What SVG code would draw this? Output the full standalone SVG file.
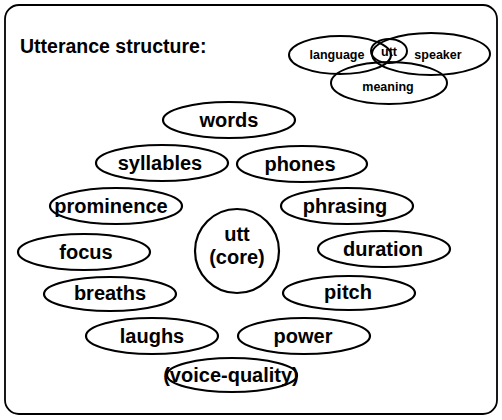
<svg xmlns="http://www.w3.org/2000/svg" width="502" height="420" viewBox="0 0 502 420">
  <style>
    .frame { fill: none; stroke: #000; stroke-width: 1.8; }
    .node ellipse, .node circle { fill: none; stroke: #000; stroke-width: 2.2; }
    .venn ellipse { fill: none; stroke: #000; stroke-width: 2; }
    text { font-family: "Liberation Sans", Arial, sans-serif; font-weight: bold; fill: #000; text-anchor: middle; }
    .label { font-size: 20px; }
    .small { font-size: 12.5px; }
    .title { font-size: 19.5px; text-anchor: start; }
  </style>
  <rect class="frame" x="5" y="5" width="492" height="409" rx="14" ry="14"/>
  <text class="title" x="20" y="53">Utterance structure:</text>

  <!-- context Venn diagram -->
  <g id="venn" class="venn">
    <ellipse cx="340" cy="55" rx="51" ry="19"/>
    <ellipse cx="431" cy="54" rx="59" ry="21"/>
    <ellipse cx="389" cy="83" rx="58" ry="21"/>
    <ellipse cx="389" cy="51" rx="18" ry="12"/>
    <text class="small" x="337" y="59">language</text>
    <text class="small" x="389" y="56">utt</text>
    <text class="small" x="438" y="59">speaker</text>
    <text class="small" x="388" y="91">meaning</text>
  </g>

  <g id="connectors"></g>

  <g id="words" class="node"><ellipse cx="229" cy="120" rx="66" ry="18"/><text class="label" x="229" y="127">words</text></g>
  <g id="syllables" class="node"><ellipse cx="162" cy="163" rx="66" ry="18"/><text class="label" x="160" y="170">syllables</text></g>
  <g id="phones" class="node"><ellipse cx="302" cy="164" rx="65" ry="18"/><text class="label" x="300" y="171">phones</text></g>
  <g id="prominence" class="node"><ellipse cx="116" cy="206" rx="66" ry="18"/><text class="label" x="111" y="213">prominence</text></g>
  <g id="phrasing" class="node"><ellipse cx="347" cy="206" rx="66" ry="18"/><text class="label" x="345" y="213">phrasing</text></g>
  <g id="focus" class="node"><ellipse cx="84" cy="252" rx="66" ry="18"/><text class="label" x="86" y="259">focus</text></g>
  <g id="duration" class="node"><ellipse cx="384" cy="249" rx="66" ry="18"/><text class="label" x="383" y="256">duration</text></g>
  <g id="utt-core" class="node"><circle cx="237" cy="251" r="42"/><text class="label" x="237" y="241">utt</text><text class="label" x="237" y="264">(core)</text></g>
  <g id="breaths" class="node"><ellipse cx="110" cy="294" rx="66" ry="17"/><text class="label" x="110" y="300">breaths</text></g>
  <g id="pitch" class="node"><ellipse cx="349" cy="293" rx="66" ry="17"/><text class="label" x="348" y="299">pitch</text></g>
  <g id="laughs" class="node"><ellipse cx="152" cy="336" rx="66" ry="18"/><text class="label" x="152" y="343">laughs</text></g>
  <g id="power" class="node"><ellipse cx="304" cy="336" rx="66" ry="18"/><text class="label" x="303" y="343">power</text></g>
  <g id="voice-quality" class="node"><ellipse cx="232" cy="375" rx="65" ry="17"/><text class="label" x="231" y="382">(voice-quality)</text></g>
</svg>
